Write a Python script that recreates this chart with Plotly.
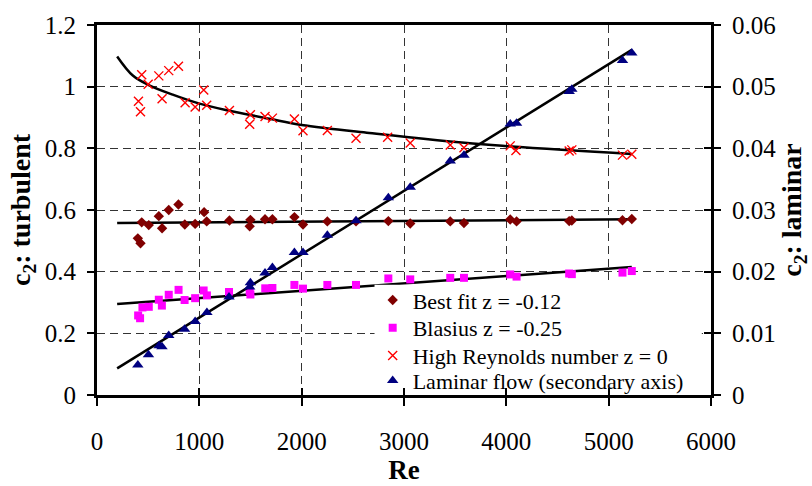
import plotly.graph_objects as go

# ---- data ----
re_best = [399, 425, 437, 506, 604, 636, 701, 796, 858, 959, 1047, 1072, 1294, 1492, 1499,
           1642, 1714, 1929, 2013, 2251, 2531, 2847, 3061, 3452, 3586, 4038, 4100, 4614, 4640,
           5135, 5226]
c2_best = [0.508, 0.492, 0.560, 0.551, 0.580, 0.541, 0.600, 0.618, 0.553, 0.555, 0.593, 0.563,
           0.566, 0.547, 0.568, 0.570, 0.570, 0.577, 0.553, 0.563, 0.563, 0.564, 0.556, 0.563,
           0.558, 0.569, 0.563, 0.564, 0.566, 0.567, 0.571]

re_blas = [402, 421, 444, 506, 604, 634, 701, 797, 856, 959, 1042, 1074, 1290, 1492, 1499,
           1644, 1714, 1929, 2013, 2251, 2531, 2847, 3061, 3452, 3586, 4038, 4100, 4614, 4640,
           5135, 5226]
c2_blas = [0.258, 0.249, 0.284, 0.286, 0.309, 0.290, 0.325, 0.341, 0.308, 0.314, 0.339, 0.323,
           0.334, 0.337, 0.326, 0.346, 0.347, 0.357, 0.345, 0.357, 0.357, 0.378, 0.375, 0.380,
           0.380, 0.391, 0.384, 0.394, 0.392, 0.397, 0.402]

re_high = [405, 425, 437, 500, 604, 636, 701, 796, 861, 959, 1043, 1072, 1294, 1492, 1499,
           1642, 1714, 1929, 2013, 2251, 2531, 2840, 3061, 3452, 3586, 4038, 4094, 4614, 4640,
           5135, 5226]
c2_high = [0.953, 0.919, 1.039, 1.008, 1.035, 0.961, 1.052, 1.066, 0.948, 0.934, 0.989, 0.940,
           0.923, 0.878, 0.909, 0.903, 0.898, 0.895, 0.857, 0.858, 0.833, 0.836, 0.817, 0.811,
           0.802, 0.808, 0.793, 0.791, 0.795, 0.778, 0.781]

re_lam = [399, 503, 607, 635, 701, 856, 959, 1074, 1290, 1492, 1499, 1642, 1714, 1929, 2013,
          2251, 2531, 2847, 3061, 3452, 3586, 4038, 4100, 4614, 4640, 5135, 5226]
c2_lam = [0.00488, 0.00654, 0.00798, 0.00783, 0.00965, 0.01068, 0.01192, 0.01337, 0.01590,
          0.01750, 0.01820, 0.01980, 0.02067, 0.02311, 0.02311, 0.02591, 0.02824, 0.03197,
          0.03368, 0.03793, 0.03886, 0.04394, 0.04405, 0.04923, 0.04958, 0.05425, 0.05545]

# fitted lines
fit_best_re = [197, 5226]
fit_best_c2 = [0.558, 0.570]
fit_blas_re = [197, 5226]
fit_blas_c2 = [0.295, 0.415]
fit_high_re = [197, 350, 500, 740, 1001, 1294, 1685, 2000, 2661, 3767, 5226]
fit_high_c2 = [1.098, 1.036, 1.006, 0.974, 0.945, 0.922, 0.896, 0.876, 0.850, 0.813, 0.782]
fit_lam_re = [197, 5226]
fit_lam_c2 = [0.00431, 0.05596]

x_ticks = [0, 1000, 2000, 3000, 4000, 5000, 6000]

FONT = "Liberation Serif"
fig = go.Figure()

line_style = dict(color="black", width=2.5)
fig.add_trace(go.Scatter(x=fit_best_re, y=fit_best_c2, mode="lines", line=line_style,
                         showlegend=False, hoverinfo="skip"))
fig.add_trace(go.Scatter(x=fit_blas_re, y=fit_blas_c2, mode="lines", line=line_style,
                         showlegend=False, hoverinfo="skip"))
fig.add_trace(go.Scatter(x=fit_high_re, y=fit_high_c2, mode="lines",
                         line=dict(color="black", width=2.5, shape="spline"),
                         showlegend=False, hoverinfo="skip"))
fig.add_trace(go.Scatter(x=fit_lam_re, y=fit_lam_c2, mode="lines", line=line_style,
                         yaxis="y2", showlegend=False, hoverinfo="skip"))

fig.add_trace(go.Scatter(x=re_best, y=c2_best, mode="markers", name="Best fit z = -0.12",
                         legend="legend",
                         marker=dict(symbol="diamond", size=8, color="#800000")))
fig.add_trace(go.Scatter(x=re_blas, y=c2_blas, mode="markers", name="Blasius z = -0.25",
                         legend="legend2",
                         marker=dict(symbol="square", size=8, color="#FF00FF")))
fig.add_trace(go.Scatter(x=re_high, y=c2_high, mode="markers", name="High Reynolds number z = 0",
                         legend="legend3",
                         marker=dict(symbol="x-thin-open", size=9, color="#FF0000",
                                     line=dict(color="#FF0000", width=1.4))))
fig.add_trace(go.Scatter(x=re_lam, y=c2_lam, mode="markers", name="Laminar flow (secondary axis)",
                         yaxis="y2", legend="legend4",
                         marker=dict(symbol="triangle-up", size=10, color="#000080")))

# dummy trace so the inner-tick overlay axes are drawn
fig.add_trace(go.Scatter(x=[None], y=[None], xaxis="x2", yaxis="y3", showlegend=False,
                         hoverinfo="skip"))

grid = dict(showgrid=True, gridcolor="#333333", gridwidth=1, griddash="8px,5px")
tickfont = dict(family=FONT, size=25, color="black")


def leg(yc):
    return dict(x=0.449, y=yc, xanchor="left", yanchor="middle",
                bgcolor="rgba(0,0,0,0)", borderwidth=0,
                font=dict(family=FONT, size=22, color="black"))


fig.update_layout(
    width=812, height=486,
    margin=dict(l=97, r=100, t=21, b=79),
    paper_bgcolor="white", plot_bgcolor="white",
    font=dict(family=FONT, size=25, color="black"),
    showlegend=True,
    legend=leg(0.2564), legend2=leg(0.1814), legend3=leg(0.1062), legend4=leg(0.0389),
    # white legend background box
    shapes=[dict(type="rect", xref="paper", yref="paper", x0=0.452, x1=0.985,
                 y0=0.026, y1=0.298, fillcolor="white", line=dict(width=0), layer="above")],
    xaxis=dict(range=[0, 6000], tickvals=x_ticks, ticktext=[str(v) for v in x_ticks],
               tickfont=tickfont,
               ticks="outside", ticklen=8, tickwidth=1.5, tickcolor="black",
               showline=True, linewidth=3, linecolor="black", mirror=True,
               zeroline=False, ticklabelstandoff=14,
               title=dict(text="<b>Re</b>", font=dict(family=FONT, size=27), standoff=0),
               **grid),
    yaxis=dict(range=[0, 1.2], dtick=0.2, ticks="outside", ticklen=7, tickwidth=1.5,
               tickfont=tickfont,
               tickcolor="black", showline=True, linewidth=3, linecolor="black", mirror=True,
               zeroline=False, ticklabelstandoff=6,
               title=dict(text="<b>c<sub>2</sub>: turbulent</b>", font=dict(family=FONT, size=28),
                          standoff=6),
               **grid),
    yaxis2=dict(range=[0, 0.06], dtick=0.01, overlaying="y", side="right",
                tickfont=tickfont,
                ticks="outside", ticklen=7, tickwidth=1.5, tickcolor="black",
                showline=True, linewidth=3, linecolor="black", showgrid=False,
                zeroline=False, ticklabelstandoff=6,
                title=dict(text="<b>c<sub>2</sub>: laminar</b>", font=dict(family=FONT, size=28),
                           standoff=4)),
    xaxis2=dict(range=[0, 6000], tickvals=x_ticks, overlaying="x", side="bottom", anchor="y",
                ticks="inside", ticklen=7, tickwidth=1.5, tickcolor="black",
                showticklabels=False, showgrid=False, zeroline=False, showline=False),
    yaxis3=dict(range=[0, 0.06], dtick=0.01, overlaying="y", side="right", anchor="x",
                ticks="inside", ticklen=7, tickwidth=1.5, tickcolor="black",
                showticklabels=False, showgrid=False, zeroline=False, showline=False),
)

fig.write_html("out.html")
